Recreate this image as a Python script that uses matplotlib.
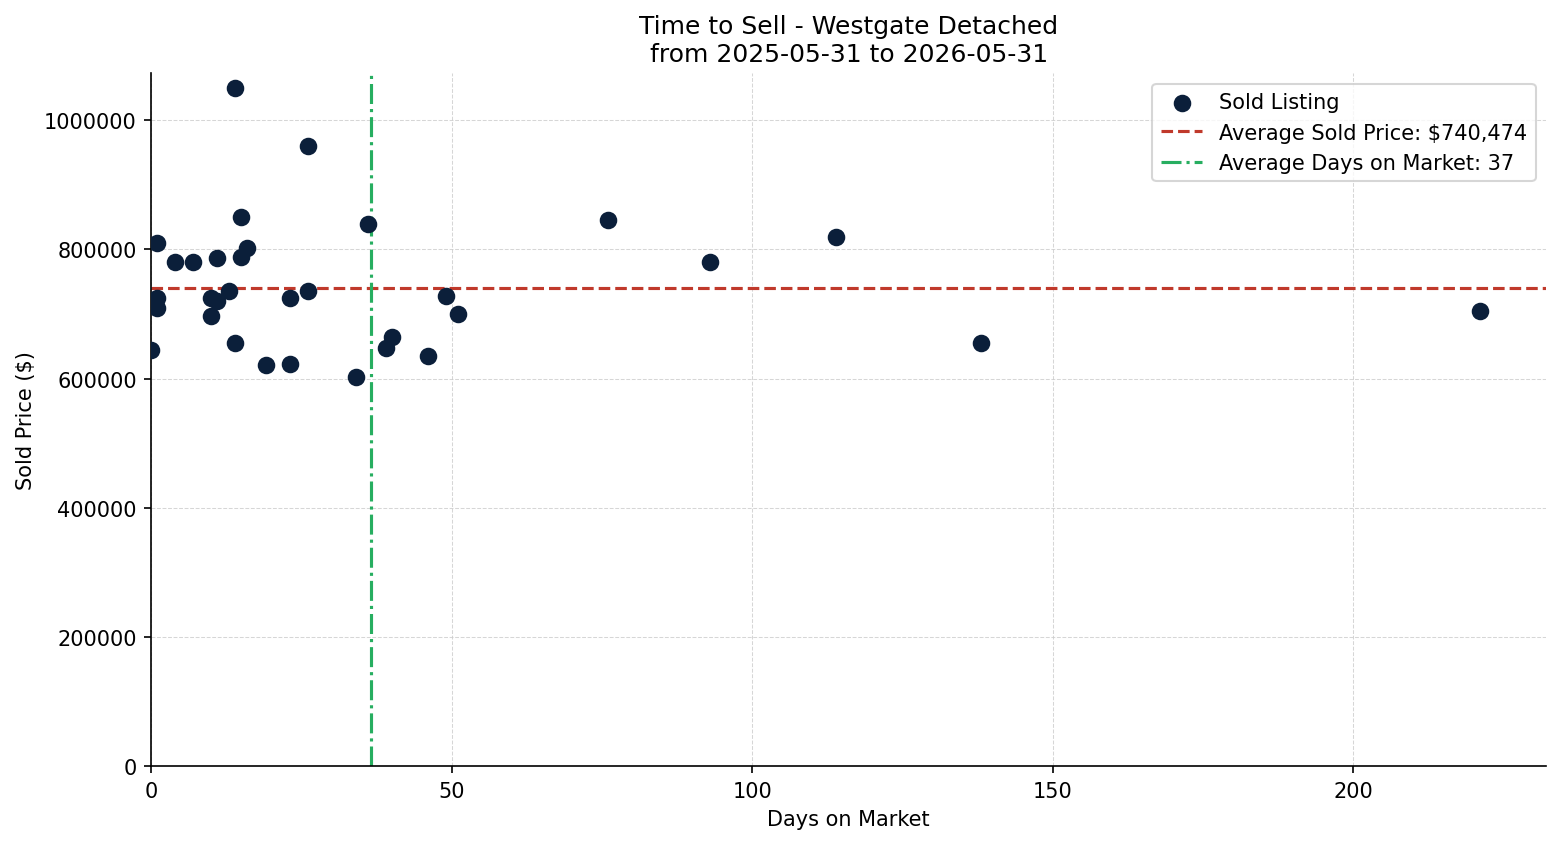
import matplotlib.pyplot as plt

# days on market / sold price for each sold listing
days = [0, 1, 1, 1, 4, 7, 10, 10, 11, 11, 13, 14, 14, 15, 15, 16, 19, 23, 23,
        26, 26, 34, 36, 39, 40, 46, 49, 51, 76, 93, 114, 138, 221]
prices = [645000, 810000, 725000, 710000, 780000, 780000, 725000, 697000, 720000,
          786000, 735000, 1050000, 655000, 850000, 788000, 802000, 621000, 725000,
          622000, 960000, 735000, 602000, 840000, 648000, 665000, 635000, 728000,
          700000, 845000, 780000, 819000, 655000, 704000]

avg_price = 740474
avg_days = 36.5
avg_days_label = "37"

fig, ax = plt.subplots(figsize=(10.4, 5.633), dpi=150)

ax.scatter(days, prices, s=55, color='#0b1f3a', zorder=3, label='Sold Listing')
ax.axhline(avg_price, color='#c0392b', linestyle='--', linewidth=1.5,
           label=f'Average Sold Price: ${avg_price:,}')
ax.axvline(avg_days, color='#27ae60', linestyle='-.', linewidth=1.5,
           label=f'Average Days on Market: {avg_days_label}')

ax.set_xlim(left=0, right=max(days) + 0.05 * max(days))
ax.set_ylim(bottom=0)
ax.ticklabel_format(axis='y', style='plain')

ax.set_title('Time to Sell - Westgate Detached\nfrom 2025-05-31 to 2026-05-31')
ax.set_xlabel('Days on Market')
ax.set_ylabel('Sold Price ($)')
ax.grid(True, linestyle='--', linewidth=0.5, color='#cccccc', alpha=0.8)
ax.spines['top'].set_visible(False)
ax.spines['right'].set_visible(False)
ax.legend(loc='upper right')

plt.subplots_adjust(left=0.097, right=0.991, top=0.912, bottom=0.092)
plt.savefig('out.png')
